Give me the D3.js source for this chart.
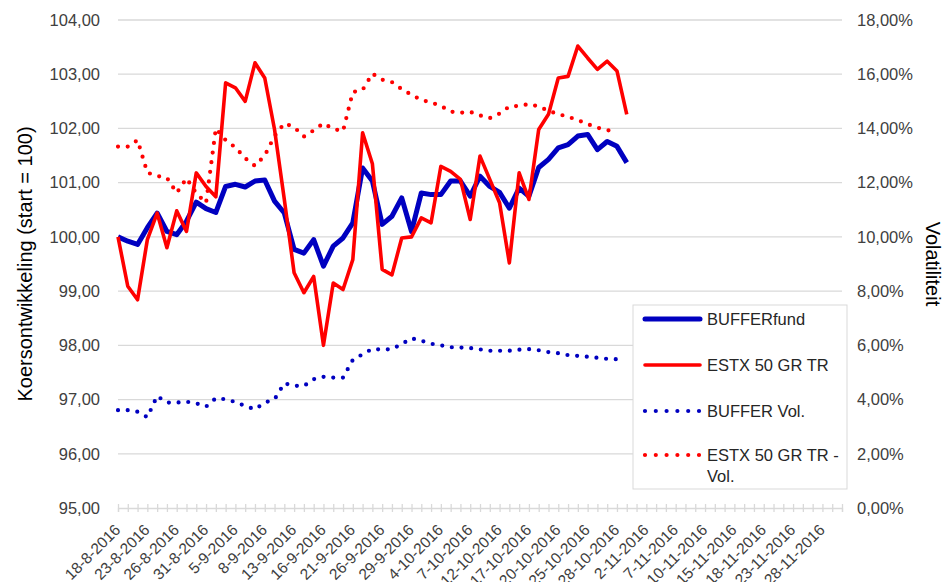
<!DOCTYPE html>
<html>
<head>
    <meta charset="utf-8">
    <title>Koersontwikkeling</title>
    <style>
        body { margin: 0; background: #fff; }
        text { font-family: "Liberation Sans", Arial, sans-serif; }
    </style>
</head>
<body>
    <script src="https://cdnjs.cloudflare.com/ajax/libs/d3/7.9.0/d3.min.js"></script>
    <script>
        const width = 943;
        const height = 582;
        const margin = {top: 20, right: 101, bottom: 74, left: 118};

        // business days on the category axis
        const dates = [
            "18-8-2016", "19-8-2016", "22-8-2016", "23-8-2016", "24-8-2016", "25-8-2016", "26-8-2016", "29-8-2016", "30-8-2016", "31-8-2016",
            "1-9-2016", "2-9-2016", "5-9-2016", "6-9-2016", "7-9-2016", "8-9-2016", "9-9-2016", "12-9-2016", "13-9-2016", "14-9-2016",
            "15-9-2016", "16-9-2016", "19-9-2016", "20-9-2016", "21-9-2016", "22-9-2016", "23-9-2016", "26-9-2016", "27-9-2016", "28-9-2016",
            "29-9-2016", "30-9-2016", "3-10-2016", "4-10-2016", "5-10-2016", "6-10-2016", "7-10-2016", "10-10-2016", "11-10-2016", "12-10-2016",
            "13-10-2016", "14-10-2016", "17-10-2016", "18-10-2016", "19-10-2016", "20-10-2016", "21-10-2016", "24-10-2016", "25-10-2016", "26-10-2016",
            "27-10-2016", "28-10-2016", "31-10-2016", "1-11-2016", "2-11-2016", "3-11-2016", "4-11-2016", "7-11-2016", "8-11-2016", "9-11-2016",
            "10-11-2016", "11-11-2016", "14-11-2016", "15-11-2016", "16-11-2016", "17-11-2016", "18-11-2016", "21-11-2016", "22-11-2016", "23-11-2016",
            "24-11-2016", "25-11-2016", "28-11-2016", "29-11-2016", "30-11-2016"
        ];

        const bufferFund = [
            100.00, 99.92, 99.86, 100.17, 100.44, 100.10, 100.04, 100.29, 100.64, 100.52,
            100.45, 100.93, 100.97, 100.92, 101.03, 101.05, 100.66, 100.44, 99.77, 99.70,
            99.95, 99.46, 99.83, 99.98, 100.26, 101.27, 101.03, 100.23, 100.38, 100.72,
            100.10, 100.81, 100.78, 100.78, 101.03, 101.03, 100.75, 101.12, 100.93, 100.82,
            100.53, 100.90, 100.75, 101.28, 101.43, 101.64, 101.70, 101.86, 101.89, 101.61,
            101.76, 101.67, 101.37
        ];

        const estx = [
            100.00, 99.09, 98.84, 99.95, 100.44, 99.80, 100.48, 100.10, 101.18, 100.93,
            100.74, 102.84, 102.75, 102.50, 103.21, 102.93, 101.98, 100.69, 99.34, 98.97,
            99.27, 98.00, 99.15, 99.03, 99.58, 101.92, 101.35, 99.40, 99.30, 99.98,
            100.00, 100.35, 100.26, 101.30, 101.21, 101.06, 100.32, 101.49, 101.06, 100.63,
            99.52, 101.18, 100.69, 101.98, 102.26, 102.93, 102.96, 103.52, 103.30, 103.09,
            103.24, 103.06, 102.26
        ];

        const bufferVol = [
            3.61, 3.61, 3.55, 3.35, 4.13, 3.89, 3.89, 3.92, 3.86, 3.74,
            4.05, 4.01, 3.91, 3.76, 3.64, 3.89, 4.01, 4.60, 4.51, 4.50,
            4.75, 4.84, 4.81, 4.81, 5.46, 5.67, 5.87, 5.84, 5.86, 6.05,
            6.26, 6.17, 6.06, 6.00, 5.93, 5.92, 5.90, 5.85, 5.80, 5.80,
            5.80, 5.84, 5.86, 5.82, 5.75, 5.71, 5.64, 5.61, 5.58, 5.54,
            5.50, 5.49
        ];

        const estxVol = [
            13.33, 13.33, 13.57, 12.37, 12.25, 12.18, 11.62, 12.16, 11.61, 11.25,
            14.00, 13.57, 13.30, 12.90, 12.62, 13.00, 13.72, 14.19, 14.05, 13.70,
            13.93, 14.19, 13.98, 13.90, 15.34, 15.42, 16.02, 15.80, 15.71, 15.45,
            15.24, 15.05, 14.96, 14.83, 14.62, 14.58, 14.61, 14.48, 14.38, 14.55,
            14.81, 14.83, 14.90, 14.81, 14.65, 14.53, 14.43, 14.31, 14.16, 14.03,
            13.94, 13.88
        ];

        const leftTicks = [95, 96, 97, 98, 99, 100, 101, 102, 103, 104];
        const rightTicks = [0, 2, 4, 6, 8, 10, 12, 14, 16, 18];

        const series = [
            {name: "BUFFERfund", values: bufferFund, axis: "left", color: "#0000c0", w: 5, dotted: false},
            {name: "ESTX 50 GR TR", values: estx, axis: "left", color: "#ff0000", w: 3.6, dotted: false},
            {name: "BUFFER Vol.", values: bufferVol, axis: "right", color: "#0000c0", w: 4.2, dotted: true},
            {name: "ESTX 50 GR TR -|Vol.", values: estxVol, axis: "right", color: "#ff0000", w: 4.2, dotted: true}
        ];

        const svg = d3.select("body")
            .append("svg")
            .attr("width", width)
            .attr("height", height);

        const x = d3.scalePoint()
            .domain(dates)
            .range([margin.left, width - margin.right]);

        const yL = d3.scaleLinear()
            .domain([95, 104])
            .range([height - margin.bottom, margin.top]);

        const yR = d3.scaleLinear()
            .domain([0, 18])
            .range([height - margin.bottom, margin.top]);

        const comma = d => d.toFixed(2).replace(".", ",");

        // gridlines
        svg.append("g")
            .selectAll("line")
            .data(leftTicks.slice(1))
            .enter()
            .append("line")
            .attr("x1", margin.left)
            .attr("x2", width - margin.right)
            .attr("y1", d => yL(d))
            .attr("y2", d => yL(d))
            .attr("stroke", "#d9d9d9")
            .attr("stroke-width", 1.3);

        // x axis
        const xAxis = svg.append("g")
            .attr("transform", `translate(0,${height - margin.bottom})`)
            .call(d3.axisBottom(x)
                .tickValues(dates)
                .tickSize(4)
                .tickFormat((d, i) => i % 3 === 0 ? d : ""));

        xAxis.select(".domain")
            .attr("stroke", "#d9d9d9")
            .attr("stroke-width", 1.3);
        xAxis.selectAll(".tick line")
            .attr("y1", -4)
            .attr("stroke", "#d9d9d9")
            .attr("stroke-width", 1.3);
        xAxis.selectAll(".tick text")
            .attr("y", 0)
            .attr("dy", "0.35em")
            .attr("text-anchor", "end")
            .attr("transform", "translate(-1,19) rotate(-45)")
            .attr("fill", "#404040")
            .style("font-size", "15.5px");

        // left axis
        const leftAxis = svg.append("g")
            .attr("transform", "translate(100,0)")
            .call(d3.axisLeft(yL).tickValues(leftTicks).tickSize(0).tickPadding(0).tickFormat(comma));
        leftAxis.select(".domain").remove();
        leftAxis.selectAll("text")
            .attr("fill", "#404040")
            .style("font-size", "16.5px");

        // right axis
        const rightAxis = svg.append("g")
            .attr("transform", "translate(857,0)")
            .call(d3.axisRight(yR).tickValues(rightTicks).tickSize(0).tickPadding(0).tickFormat(d => comma(d) + "%"));
        rightAxis.select(".domain").remove();
        rightAxis.selectAll("text")
            .attr("fill", "#404040")
            .style("font-size", "16.5px");

        // axis titles
        svg.append("text")
            .attr("transform", "translate(32,264) rotate(-90)")
            .attr("text-anchor", "middle")
            .style("font-size", "20px")
            .attr("fill", "#000")
            .text("Koersontwikkeling (start = 100)");

        svg.append("text")
            .attr("transform", "translate(926,264) rotate(90)")
            .attr("text-anchor", "middle")
            .style("font-size", "20px")
            .attr("fill", "#000")
            .text("Volatiliteit");

        // lines
        series.forEach(s => {
            const yScale = s.axis === "left" ? yL : yR;
            const line = d3.line()
                .x((d, i) => x(dates[i]))
                .y(d => yScale(d));
            const path = svg.append("path")
                .datum(s.values)
                .attr("fill", "none")
                .attr("stroke", s.color)
                .attr("stroke-width", s.w)
                .attr("stroke-linejoin", "round")
                .attr("d", line);
            if (s.dotted) {
                path.attr("stroke-dasharray", "0 9.7")
                    .attr("stroke-linecap", "round");
            }
        });

        // legend
        const legend = svg.append("g");
        legend.append("rect")
            .attr("x", 633)
            .attr("y", 305)
            .attr("width", 214)
            .attr("height", 184)
            .attr("fill", "#fff")
            .attr("stroke", "#d9d9d9");

        const rowY = [319, 365, 411, 455];
        series.forEach((s, i) => {
            const row = legend.append("g").attr("transform", `translate(0,${rowY[i]})`);
            const l = row.append("line")
                .attr("x1", 645)
                .attr("x2", 700)
                .attr("stroke", s.color)
                .attr("stroke-width", s.w);
            if (s.dotted) {
                l.attr("stroke-dasharray", "0 10.8").attr("stroke-linecap", "round");
            } else {
                l.attr("stroke-linecap", "round");
            }
            const t = row.append("text")
                .attr("x", 707)
                .attr("dy", "0.35em")
                .attr("fill", "#262626")
                .style("font-size", "16.5px");
            s.name.split("|").forEach((part, j) => {
                t.append("tspan")
                    .attr("x", 707)
                    .attr("dy", j === 0 ? "0.35em" : "1.3em")
                    .text(part);
            });
        });
    </script>
</body>
</html>
